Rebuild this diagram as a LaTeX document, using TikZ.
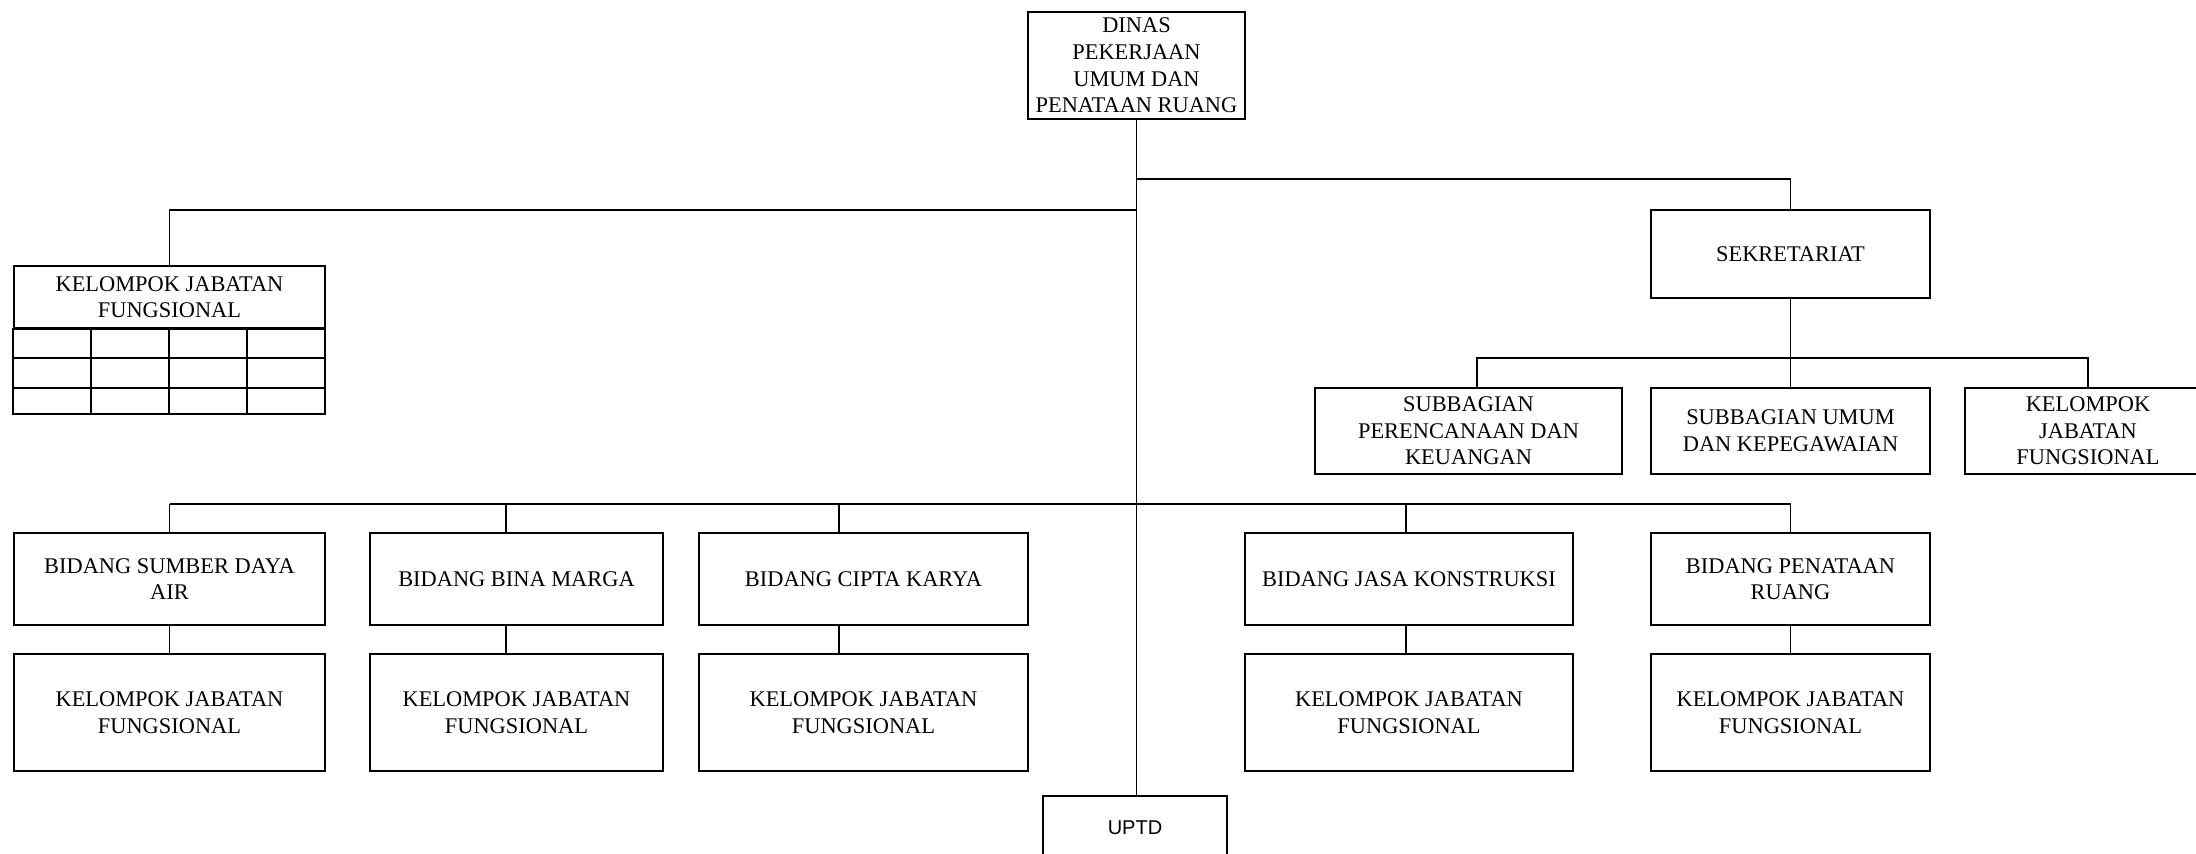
\documentclass[tikz,border=0pt]{standalone}
\usepackage{fontspec}
\setmainfont{Liberation Serif}
\newfontfamily\uptdfont{Liberation Sans}
\begin{document}
\begin{tikzpicture}[x=0.5pt,y=-0.5pt,
  box/.style={draw,line width=1pt,rectangle,inner sep=0pt,align=center,
    font=\fontsize{11.2}{13.3}\selectfont},
  conn/.style={line width=0.8pt}]
\useasboundingbox (0,0) rectangle (2196,854);
% top
\node[box,minimum width=108.5pt,minimum height=53.5pt] (dinas) at (1136.5,65.5) {DINAS\\PEKERJAAN\\UMUM DAN\\PENATAAN RUANG};
\node[box,minimum width=139.5pt,minimum height=44pt] (sek) at (1790.5,254) {SEKRETARIAT};
\node[box,minimum width=153.5pt,minimum height=43pt] (spk) at (1468.5,431) {SUBBAGIAN\\PERENCANAAN DAN\\KEUANGAN};
\node[box,minimum width=139.5pt,minimum height=43pt] (suk) at (1790.5,431) {SUBBAGIAN UMUM\\DAN KEPEGAWAIAN};
\node[box,minimum width=123pt,minimum height=43pt] (kjfr) at (2088,431) {KELOMPOK\\JABATAN\\FUNGSIONAL};
% table
\node[box,minimum width=155.5pt,minimum height=31pt] (kjft) at (169.5,297) {KELOMPOK JABATAN\\FUNGSIONAL};
\coordinate (tbr) at (325,414);
\draw[line width=1pt] (kjft.south west) rectangle (tbr);
\draw[line width=1pt] (kjft.west |- 0,358) -- (tbr |- 0,358);
\draw[line width=1pt] (kjft.west |- 0,388) -- (tbr |- 0,388);
\foreach \cx in {91,169,247} \draw[conn] (\cx,328) -- (\cx,414);
% bidang
\node[box,minimum width=155.5pt,minimum height=46pt] (sda) at (169.5,579) {BIDANG SUMBER DAYA\\AIR};
\node[box,minimum width=146.5pt,minimum height=46pt] (bm) at (516.5,579) {BIDANG BINA MARGA};
\node[box,minimum width=164.5pt,minimum height=46pt] (ck) at (863.5,579) {BIDANG CIPTA KARYA};
\node[box,minimum width=164pt,minimum height=46pt] (jk) at (1409,579) {BIDANG JASA KONSTRUKSI};
\node[box,minimum width=139.5pt,minimum height=46pt] (pr) at (1790.5,579) {BIDANG PENATAAN\\RUANG};
\node[box,minimum width=155.5pt,minimum height=58.5pt] (ksda) at (169.5,712.5) {KELOMPOK JABATAN\\FUNGSIONAL};
\node[box,minimum width=146.5pt,minimum height=58.5pt] (kbm) at (516.5,712.5) {KELOMPOK JABATAN\\FUNGSIONAL};
\node[box,minimum width=164.5pt,minimum height=58.5pt] (kck) at (863.5,712.5) {KELOMPOK JABATAN\\FUNGSIONAL};
\node[box,minimum width=164pt,minimum height=58.5pt] (kjk) at (1409,712.5) {KELOMPOK JABATAN\\FUNGSIONAL};
\node[box,minimum width=139.5pt,minimum height=58.5pt] (kpr) at (1790.5,712.5) {KELOMPOK JABATAN\\FUNGSIONAL};
\node[box,minimum width=92pt,minimum height=32pt,font=\uptdfont\fontsize{10}{12}\selectfont] (uptd) at (1135,828) {UPTD};
% connectors
\draw[conn] (dinas.south) -- (dinas.south |- uptd.north);
\coordinate (jt) at (1136.5,179);
\coordinate (jl) at (1136.5,210);
\draw[conn] (jt) -| (sek.north);
\draw[conn] (jl) -| (kjft.north);
\coordinate (js) at (1790.5,358);
\coordinate (jspk) at (1477,358);
\draw[conn] (sek.south) -- (js);
\draw[conn] (jspk |- spk.north) -- (jspk) -| (kjfr.north);
\draw[conn] (js) -- (suk.north);
\coordinate (c1) at (169.5,504);
\coordinate (c2) at (506,504);
\coordinate (c3) at (839,504);
\coordinate (c4) at (1406,504);
\coordinate (c5) at (1790.5,504);
\draw[conn] (c1) -- (c5);
\draw[conn] (c1) -- (c1 |- sda.north);
\draw[conn] (c2) -- (c2 |- bm.north);
\draw[conn] (c3) -- (c3 |- ck.north);
\draw[conn] (c4) -- (c4 |- jk.north);
\draw[conn] (c5) -- (c5 |- pr.north);
\draw[conn] (c1 |- sda.south) -- (c1 |- ksda.north);
\draw[conn] (c2 |- bm.south) -- (c2 |- kbm.north);
\draw[conn] (c3 |- ck.south) -- (c3 |- kck.north);
\draw[conn] (c4 |- jk.south) -- (c4 |- kjk.north);
\draw[conn] (c5 |- pr.south) -- (c5 |- kpr.north);
\end{tikzpicture}
\end{document}
